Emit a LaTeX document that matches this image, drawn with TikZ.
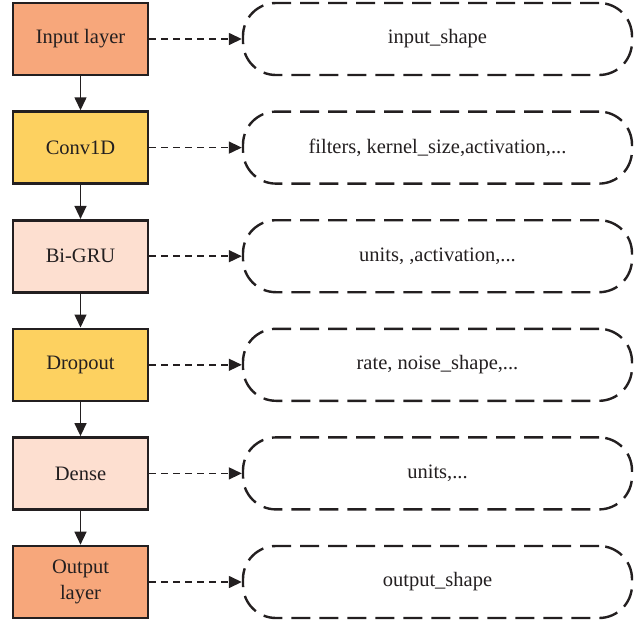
\documentclass[tikz,border=0pt]{standalone}
\usepackage{fontspec}
\setmainfont{Liberation Serif}
\usetikzlibrary{arrows.meta}
\definecolor{salmon}{HTML}{F7A77B}
\definecolor{yell}{HTML}{FDD160}
\definecolor{pinkish}{HTML}{FDDFD0}
\definecolor{edge}{HTML}{231F20}
\tikzset{
  layerbox/.style={draw=edge, line width=2.6pt, minimum width=135pt, minimum height=72pt,
    inner sep=0pt, align=center, font=\fontsize{20.5}{25.5}\selectfont, text=edge},
  parambox/.style={draw=edge, line width=2.4pt, dash pattern=on 19pt off 9pt, rounded corners=33pt,
    minimum width=389pt, minimum height=72pt, inner sep=0pt, font=\fontsize{20.5}{24}\selectfont, text=edge},
  flowarrow/.style={draw=edge, line width=1.4pt, -{Triangle[length=13pt,width=12pt]}},
  linkarrow/.style={draw=edge, line width=1.5pt, dash pattern=on 7pt off 5pt, -{Triangle[length=13pt,width=12pt]}}
}
\begin{document}
\begin{tikzpicture}[x=1pt,y=-1pt]
\useasboundingbox (0,0) rectangle (643,627);
\node[layerbox, fill=salmon] (l1) at (80.5,39) {Input layer};
\node[layerbox, fill=yell] (l2) at (80.5,147.6) {Conv1D};
\node[layerbox, fill=pinkish] (l3) at (80.5,256.2) {Bi-GRU};
\node[layerbox, fill=yell] (l4) at (80.5,364.8) {Dropout};
\node[layerbox, fill=pinkish] (l5) at (80.5,473.4) {Dense};
\node[layerbox, fill=salmon] (l6) at (80.5,582) {Output\\layer};
\node[parambox] (p1) at (437.5,39) {input\_shape};
\node[parambox] (p2) at (437.5,147.6) {filters, kernel\_size,activation,...};
\node[parambox] (p3) at (437.5,256.2) {units, ,activation,...};
\node[parambox] (p4) at (437.5,364.8) {rate, noise\_shape,...};
\node[parambox] (p5) at (437.5,473.4) {units,...};
\node[parambox] (p6) at (437.5,582) {output\_shape};
\foreach \a/\b in {l1/l2,l2/l3,l3/l4,l4/l5,l5/l6}
  \draw[flowarrow] (\a.south) -- (\b.north);
\foreach \i in {1,...,6}
  \draw[linkarrow] (l\i.east) -- (p\i.west);
\end{tikzpicture}
\end{document}
